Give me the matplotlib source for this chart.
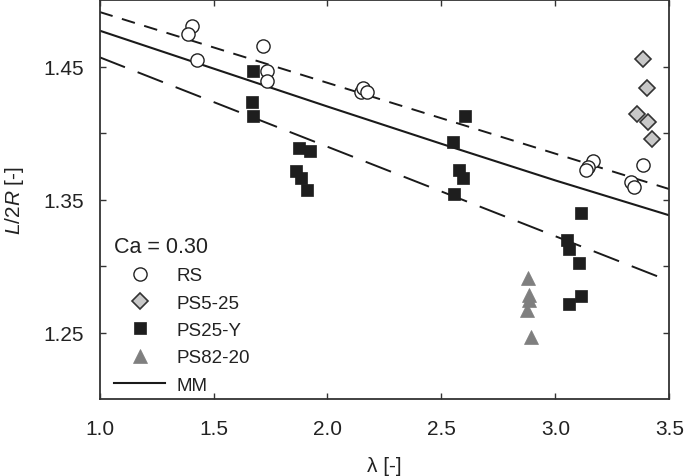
import matplotlib
matplotlib.use("Agg")
import matplotlib.pyplot as plt
from matplotlib.ticker import FixedLocator, FixedFormatter

plt.rcParams["font.family"] = ["Liberation Sans", "DejaVu Sans"]
plt.rcParams["mathtext.fontset"] = "custom"
plt.rcParams["mathtext.it"] = "Liberation Sans:italic"
plt.rcParams["mathtext.rm"] = "Liberation Sans"

TXT = "#222222"

# --- data ---
rs_x = [1.404, 1.386, 1.429, 1.715, 1.736, 1.734, 2.145, 2.157, 2.174,
        3.165, 3.141, 3.136, 3.385, 3.334, 3.344]
rs_y = [1.4808, 1.4744, 1.4550, 1.4654, 1.4470, 1.4390, 1.4308, 1.4341, 1.4308,
        1.3794, 1.3749, 1.3726, 1.3761, 1.3632, 1.3595]

ps5_x = [3.385, 3.404, 3.358, 3.407, 3.426]
ps5_y = [1.4557, 1.4341, 1.4142, 1.4085, 1.3955]

ps25_x = [1.674, 1.667, 1.671, 1.875, 1.923, 1.864, 1.883, 1.911,
          2.603, 2.549, 2.578, 2.593, 2.556,
          3.111, 3.051, 3.060, 3.104, 3.111, 3.060]
ps25_y = [1.4470, 1.4236, 1.4129, 1.3888, 1.3863, 1.3719, 1.3664, 1.3575,
          1.4129, 1.3930, 1.3724, 1.3664, 1.3545,
          1.3403, 1.3196, 1.3129, 1.3022, 1.2774, 1.2719]

ps82_x = [2.882, 2.883, 2.884, 2.876, 2.891]
ps82_y = [1.2910, 1.2781, 1.2749, 1.2674, 1.2470]

mm_x = [1.0, 1.5, 2.0, 2.5, 3.0, 3.5]
mm_y = [1.477, 1.4485, 1.420, 1.392, 1.3645, 1.3383]

upper_x = [1.0, 3.5]
upper_y = [1.491, 1.358]
lower_x = [1.0, 3.5]
lower_y = [1.457, 1.289]

x_ticks = [1.0, 1.5, 2.0, 2.5, 3.0, 3.5]
x_ticklabels = ["1.0", "1.5", "2.0", "2.5", "3.0", "3.5"]
y_ticks = [1.25, 1.30, 1.35, 1.40, 1.45]
y_ticklabels = ["1.25", "", "1.35", "", "1.45"]

fig = plt.figure(figsize=(6.85, 4.77), dpi=100)
ax = fig.add_axes([0.1454, 0.1604, 0.8317, 0.8375])

ax.plot(upper_x, upper_y, color="#1a1a1a", lw=1.4, dashes=(7, 5))
ax.plot(lower_x, lower_y, color="#1a1a1a", lw=1.4, dashes=(14, 7))
ax.plot(mm_x, mm_y, color="#1a1a1a", lw=1.5, label="MM")

ax.plot(rs_x, rs_y, "o", ms=9.5, mfc="white", mec="#222222", mew=1.0, label="RS")
ax.plot(ps5_x, ps5_y, "D", ms=8, mfc="#c8c8c8", mec="#333333", mew=1.2, label="PS5-25")
ax.plot(ps25_x, ps25_y, "s", ms=9, mfc="#1e1e1e", mec="#1e1e1e", mew=0.5, label="PS25-Y")
ax.plot(ps82_x, ps82_y, "^", ms=10, mfc="#7f7f7f", mec="#7f7f7f", mew=0.5, label="PS82-20")

ax.set_xlim(1.0, 3.5)
ax.set_ylim(1.2, 1.5)
ax.xaxis.set_major_locator(FixedLocator(x_ticks))
ax.xaxis.set_major_formatter(FixedFormatter(x_ticklabels))
ax.yaxis.set_major_locator(FixedLocator(y_ticks))
ax.yaxis.set_major_formatter(FixedFormatter(y_ticklabels))
ax.tick_params(direction="in", length=4, width=1, colors="#333333",
               top=True, right=True, labelsize=15, labelcolor=TXT)
ax.tick_params(axis="x", pad=14)
ax.tick_params(axis="y", pad=11)
for sp in ax.spines.values():
    sp.set_color("#333333")
    sp.set_linewidth(1.3)

ax.set_xlabel("λ [-]", fontsize=15, color=TXT, labelpad=13)
ax.set_ylabel(r"$\mathit{L/2R}$ [-]", fontsize=15, color=TXT, labelpad=13)

h, l = ax.get_legend_handles_labels()
order = [1, 2, 3, 4, 0]
leg = ax.legend([h[i] for i in order], [l[i] for i in order],
                loc="lower left", bbox_to_anchor=(0.016, 0.0), frameon=False,
                fontsize=13.5, title="Ca = 0.30", title_fontsize=15.5,
                alignment="left", handlelength=2.7, handletextpad=0.6,
                labelspacing=0.55, borderaxespad=0.3, borderpad=0.0)
for t in leg.get_texts():
    t.set_color(TXT)
leg.get_title().set_color(TXT)

fig.savefig("out.png", dpi=100)
